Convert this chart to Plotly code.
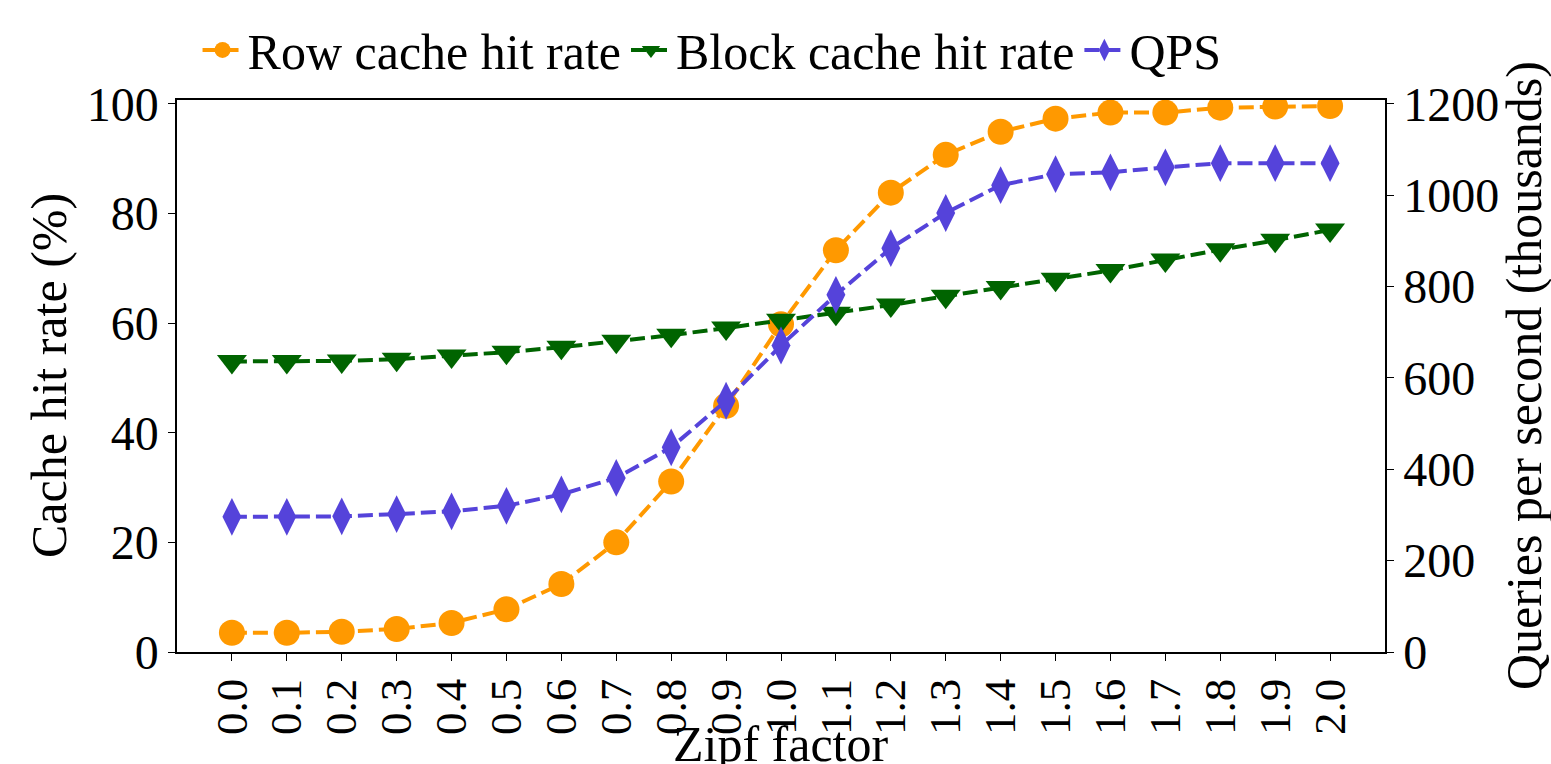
import plotly.graph_objects as go

# Zipf skew factors on the x axis
zipf_factor = [0.0, 0.1, 0.2, 0.3, 0.4, 0.5, 0.6, 0.7, 0.8, 0.9, 1.0,
               1.1, 1.2, 1.3, 1.4, 1.5, 1.6, 1.7, 1.8, 1.9, 2.0]
x_tick_text = [f"{v:.1f}" for v in zipf_factor]

# Cache hit rates (%)
row_cache_hit = [3.5, 3.5, 3.7, 4.2, 5.3, 7.8, 12.4, 20.0, 31.1, 44.9, 59.8,
                 73.3, 83.8, 90.7, 94.9, 97.3, 98.4, 98.4, 99.3, 99.5, 99.6]
block_cache_hit = [53.0, 53.0, 53.1, 53.4, 54.0, 54.7, 55.6, 56.7, 57.8, 59.1, 60.5,
                   61.8, 63.3, 64.9, 66.5, 68.0, 69.6, 71.5, 73.4, 75.1, 77.0]

# Throughput (thousands of queries per second)
qps_thousands = [296, 296, 297, 302, 308, 320, 345, 381, 448, 550, 671,
                 782, 884, 961, 1022, 1046, 1050, 1061, 1070, 1070, 1070]

left_ticks = [0, 20, 40, 60, 80, 100]
right_ticks = [0, 200, 400, 600, 800, 1000, 1200]

FONT = "Liberation Serif"
FS = 48
FS_X = 45
FS_TEXT = 50
ORANGE = "#FF9900"
GREEN = "#006400"
PURPLE = "#5543DA"
DASH = "15px,6px"
LW = 4

fig = go.Figure()

fig.add_trace(go.Scatter(
    x=zipf_factor, y=row_cache_hit, name="Row cache hit rate",
    mode="lines+markers",
    line=dict(color=ORANGE, width=LW, dash=DASH),
    marker=dict(symbol="circle", size=26, color=ORANGE),
))
fig.add_trace(go.Scatter(
    x=zipf_factor, y=block_cache_hit, name="Block cache hit rate",
    mode="lines+markers",
    line=dict(color=GREEN, width=LW, dash=DASH),
    marker=dict(symbol="triangle-down", size=26, color=GREEN),
))
fig.add_trace(go.Scatter(
    x=zipf_factor, y=qps_thousands, name="QPS", yaxis="y2",
    mode="lines+markers",
    line=dict(color=PURPLE, width=LW, dash=DASH),
    marker=dict(symbol="diamond-tall", size=27, color=PURPLE),
))

axis_common = dict(
    showline=True, linecolor="black", linewidth=1.5,
    ticks="outside", ticklen=7, tickwidth=1.2, tickcolor="black",
    showgrid=False, zeroline=False,
)
y_tickfont = dict(family=FONT, size=FS, color="black")

fig.update_layout(
    width=1551, height=764,
    margin=dict(l=177, r=166, t=100, b=112, autoexpand=False),
    paper_bgcolor="white", plot_bgcolor="white",
    font=dict(family=FONT, size=FS, color="black"),
    showlegend=True,
    legend=dict(
        orientation="h", x=0.017, xanchor="left", y=1.02, yanchor="bottom",
        font=dict(family=FONT, size=FS_TEXT, color="black"),
        bgcolor="rgba(0,0,0,0)", itemwidth=40, tracegroupgap=0,
    ),
    xaxis=dict(
        range=[-0.1, 2.1], tickmode="array",
        tickvals=zipf_factor, ticktext=x_tick_text, tickangle=-90,
        tickfont=dict(family=FONT, size=FS_X, color="black"),
        mirror=True, **axis_common,
    ),
    yaxis=dict(
        range=[0, 100.7], tickmode="array", tickvals=left_ticks,
        tickfont=y_tickfont, **axis_common,
    ),
    yaxis2=dict(
        range=[0, 1208.4], tickmode="array", tickvals=right_ticks,
        overlaying="y", side="right", tickfont=y_tickfont, **axis_common,
    ),
    annotations=[
        dict(text="Zipf factor", xref="paper", yref="paper", x=0.5, y=-0.166,
             xanchor="center", yanchor="middle", showarrow=False,
             font=dict(family=FONT, size=FS_TEXT, color="black")),
        dict(text="Cache hit rate (%)", xref="paper", yref="paper",
             x=0, xshift=-128, y=0.5, textangle=-90,
             xanchor="center", yanchor="middle", showarrow=False,
             font=dict(family=FONT, size=FS_TEXT, color="black")),
        dict(text="Queries per second (thousands)", xref="paper", yref="paper",
             x=1, xshift=139, y=0.5, textangle=-90,
             xanchor="center", yanchor="middle", showarrow=False,
             font=dict(family=FONT, size=FS_TEXT, color="black")),
    ],
)

fig.write_html("out.html")
